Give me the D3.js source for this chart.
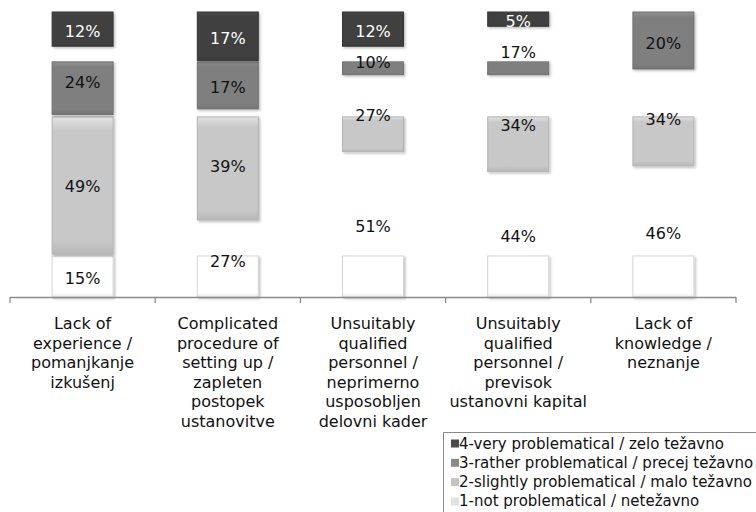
<!DOCTYPE html>
<html>
<head>
<meta charset="utf-8">
<script src="https://cdn.jsdelivr.net/npm/d3@7"></script>
<style>
  html, body { margin: 0; padding: 0; background: #fff; }
  svg { display: block; font-family: "DejaVu Sans", Verdana, sans-serif; }
</style>
</head>
<body>
<svg id="chart" width="756" height="512"></svg>
<script>
// ---- data ----
const categories = [
  ["Lack of", "experience /", "pomanjkanje", "izkušenj"],
  ["Complicated", "procedure of", "setting up /", "zapleten", "postopek", "ustanovitve"],
  ["Unsuitably", "qualified", "personnel /", "neprimerno", "usposobljen", "delovni kader"],
  ["Unsuitably", "qualified", "personnel /", "previsok", "ustanovni kapital"],
  ["Lack of", "knowledge /", "neznanje"]
];
const seriesNames = [
  "1-not problematical / netežavno",
  "2-slightly problematical / malo težavno",
  "3-rather problematical / precej težavno",
  "4-very problematical / zelo težavno"
];
const notProblematical      = [15, 27, 51, 44, 46];
const slightlyProblematical = [49, 39, 27, 34, 34];
const ratherProblematical   = [24, 17, 10, 17, 20];
const veryProblematical     = [12, 17, 12,  5,  0];
// level (in % of the stacked scale) above which a non-top segment of each series is not painted in the reference
const seriesVisibleBelow = [14.4, 63.2, 82.5, 100];

const seriesValues = [notProblematical, slightlyProblematical, ratherProblematical, veryProblematical];
const fills   = ["#ffffff", "#c8c8c8", "#7f7f7f", "#404040"];
const strokes = ["#d6d6d6", "#b4b4b4", "#707070", "#353535"];
const legendFills = ["#e2e2e2", "#c4c4c4", "#8a8a8a", "#4a4a4a"];
const labelColors = ["#111", "#111", "#111", "#fff"];

// ---- layout ----
const svg = d3.select("#chart");
const x = d3.scaleBand().domain(d3.range(categories.length)).range([10, 736])
  .paddingInner(0.58).paddingOuter(0.29);
const y = d3.scaleLinear().domain([0, 100]).range([297, 12]);

const defs = svg.append("defs");
const shadow = defs.append("filter").attr("id", "shadow")
  .attr("x", "-20%").attr("y", "-20%").attr("width", "150%").attr("height", "150%");
shadow.append("feDropShadow").attr("dx", 1.5).attr("dy", 1.5).attr("stdDeviation", 1)
  .attr("flood-color", "#000").attr("flood-opacity", 0.25);
defs.append("clipPath").attr("id", "plotClip").append("rect")
  .attr("x", 0).attr("y", y(100)).attr("width", 756).attr("height", y(0) - y(100) + 20);

fills.forEach((f, i) => {
  const c = d3.color(f);
  const g = defs.append("linearGradient").attr("id", "grad" + i)
    .attr("x1", 0).attr("y1", 0).attr("x2", 0).attr("y2", 1);
  g.append("stop").attr("offset", "0%").attr("stop-color", c.brighter(0.35));
  g.append("stop").attr("offset", "10%").attr("stop-color", f);
  g.append("stop").attr("offset", "90%").attr("stop-color", f);
  g.append("stop").attr("offset", "100%").attr("stop-color", c.darker(0.25));
});

// stack
const table = categories.map((c, i) => {
  const row = { idx: i };
  seriesValues.forEach((s, k) => row["s" + k] = s[i]);
  return row;
});
const keys = seriesValues.map((s, k) => "s" + k);
const stacked = d3.stack().keys(keys)(table);
const totals = table.map(r => d3.sum(keys, k => r[k]));

const barsG = svg.append("g");
const labelsG = svg.append("g").attr("clip-path", "url(#plotClip)");

stacked.forEach((layer, k) => {
  const segs = layer.filter(d => d[1] - d[0] > 0);
  const topY = d => {
    const isTop = d[1] >= totals[d.data.idx];
    return isTop ? y(d[1]) : Math.max(y(d[1]), y(seriesVisibleBelow[k]));
  };
  barsG.append("g").selectAll("rect").data(segs).join("rect")
    .attr("x", d => x(d.data.idx))
    .attr("y", d => topY(d))
    .attr("width", x.bandwidth())
    .attr("height", d => Math.max(0, y(d[0]) - topY(d)))
    .attr("fill", `url(#grad${k})`)
    .attr("stroke", strokes[k])
    .attr("stroke-width", 1)
    .attr("filter", "url(#shadow)");
  labelsG.append("g").selectAll("text").data(segs).join("text")
    .attr("x", d => x(d.data.idx) + x.bandwidth() / 2)
    .attr("y", d => (y(d[0]) + y(d[1])) / 2 + 2.5)
    .attr("text-anchor", "middle")
    .attr("dominant-baseline", "central")
    .attr("font-size", 16)
    .attr("fill", labelColors[k])
    .text(d => (d[1] - d[0]) + "%");
});

// axis line with ticks at category boundaries
const axisG = svg.append("g").attr("stroke", "#8a8a8a").attr("stroke-width", 1.3);
axisG.append("line")
  .attr("x1", x.range()[0]).attr("x2", x.range()[1])
  .attr("y1", y(0) + 0.5).attr("y2", y(0) + 0.5);
const boundaries = d3.range(categories.length + 1).map(i => x.range()[0] + i * x.step());
axisG.selectAll("line.tick").data(boundaries).join("line").attr("class", "tick")
  .attr("x1", d => d).attr("x2", d => d)
  .attr("y1", y(0)).attr("y2", y(0) + 6);

// category labels
categories.forEach((lines, i) => {
  const t = svg.append("text")
    .attr("text-anchor", "middle")
    .attr("font-size", 16)
    .attr("fill", "#111");
  lines.forEach((ln, j) => {
    t.append("tspan")
      .attr("x", x(i) + x.bandwidth() / 2)
      .attr("y", 329 + j * 19.6)
      .text(ln);
  });
});

// legend
const legend = svg.append("g");
legend.append("rect")
  .attr("x", 443.5).attr("y", 432.5).attr("width", 330).attr("height", 100)
  .attr("fill", "#fff").attr("stroke", "#8a8a8a").attr("stroke-width", 1);
const legendOrder = [3, 2, 1, 0];
legendOrder.forEach((k, j) => {
  const cy = 443.5 + j * 19.3;
  legend.append("rect")
    .attr("x", 451).attr("y", cy - 4).attr("width", 8).attr("height", 8)
    .attr("fill", legendFills[k]);
  legend.append("text")
    .attr("x", 459).attr("y", cy)
    .attr("dominant-baseline", "central")
    .attr("font-size", 15)
    .attr("fill", "#111")
    .text(seriesNames[k]);
});
</script>
</body>
</html>
